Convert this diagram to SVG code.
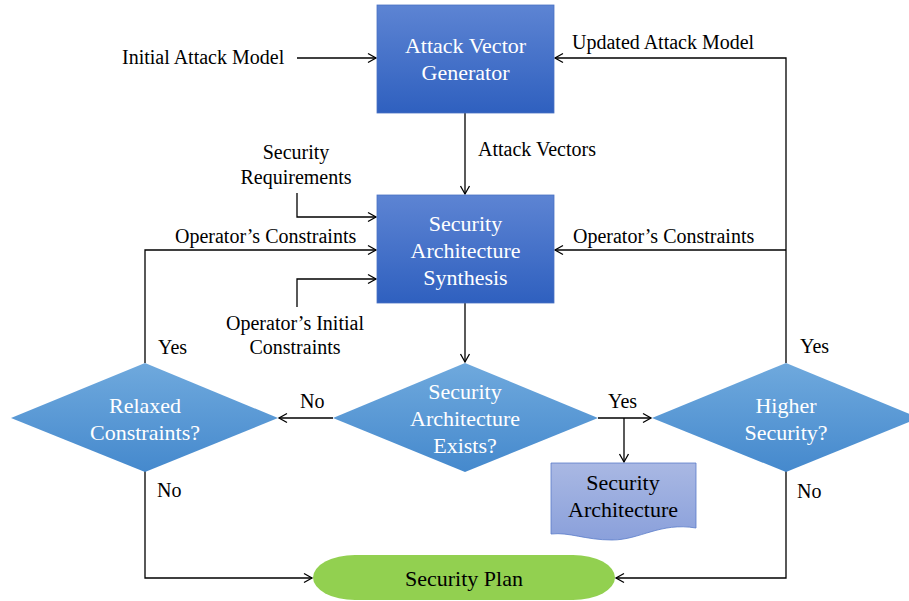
<svg xmlns="http://www.w3.org/2000/svg" width="909" height="601" viewBox="0 0 909 601">
<defs>
<linearGradient id="gBox" x1="0" y1="0" x2="0" y2="1"><stop offset="0" stop-color="#5d84d3"/><stop offset="1" stop-color="#2f60bf"/></linearGradient>
<linearGradient id="gDia" x1="0" y1="0" x2="0" y2="1"><stop offset="0" stop-color="#6fa9dd"/><stop offset="1" stop-color="#4589cd"/></linearGradient>
<linearGradient id="gDoc" x1="0" y1="0" x2="0" y2="1"><stop offset="0" stop-color="#a9b8e3"/><stop offset="1" stop-color="#8aa0db"/></linearGradient>
<marker id="arr" markerWidth="12" markerHeight="12" refX="10" refY="6" orient="auto" markerUnits="userSpaceOnUse"><path d="M2,1.5 L10,6 L2,10.5" fill="none" stroke="#000" stroke-width="1.3"/></marker>
</defs>
<rect width="909" height="601" fill="#fff"/>
<g id="connectors" fill="none" stroke="#000" stroke-width="1.3">
<path marker-end="url(#arr)" d="M297,58 H376"/>
<path marker-end="url(#arr)" d="M786,363 V58 H555"/>
<path marker-end="url(#arr)" d="M786,250 H555"/>
<path marker-end="url(#arr)" d="M465,113 V194"/>
<path marker-end="url(#arr)" d="M297,193 V217 H376"/>
<path marker-end="url(#arr)" d="M145,363 V250 H376"/>
<path marker-end="url(#arr)" d="M297,307 V279 H376"/>
<path marker-end="url(#arr)" d="M465,303 V362"/>
<path marker-end="url(#arr)" d="M333,418 H279"/>
<path marker-end="url(#arr)" d="M598,418 H651"/>
<path marker-end="url(#arr)" d="M624,418 V462"/>
<path marker-end="url(#arr)" d="M145,471 V578 H312"/>
<path marker-end="url(#arr)" d="M786,471 V578 H616"/>
</g>
<g id="labels" fill="#000">
<text font-family="Liberation Serif, Times New Roman, serif" font-size="20" x="122" y="64">Initial Attack Model</text>
<text font-family="Liberation Serif, Times New Roman, serif" font-size="20" x="572" y="49">Updated Attack Model</text>
<text font-family="Liberation Serif, Times New Roman, serif" font-size="20" x="478" y="156">Attack Vectors</text>
<text font-family="Liberation Serif, Times New Roman, serif" font-size="20" x="296" y="159" text-anchor="middle">Security</text>
<text font-family="Liberation Serif, Times New Roman, serif" font-size="20" x="296" y="184" text-anchor="middle">Requirements</text>
<text font-family="Liberation Serif, Times New Roman, serif" font-size="20" x="175" y="243">Operator&#8217;s Constraints</text>
<text font-family="Liberation Serif, Times New Roman, serif" font-size="20" x="573" y="243">Operator&#8217;s Constraints</text>
<text font-family="Liberation Serif, Times New Roman, serif" font-size="20" x="295" y="330" text-anchor="middle">Operator&#8217;s Initial</text>
<text font-family="Liberation Serif, Times New Roman, serif" font-size="20" x="295" y="354" text-anchor="middle">Constraints</text>
<text font-family="Liberation Serif, Times New Roman, serif" font-size="20" x="158" y="354">Yes</text>
<text font-family="Liberation Serif, Times New Roman, serif" font-size="20" x="800" y="353">Yes</text>
<text font-family="Liberation Serif, Times New Roman, serif" font-size="20" x="300" y="408">No</text>
<text font-family="Liberation Serif, Times New Roman, serif" font-size="20" x="608" y="408">Yes</text>
<text font-family="Liberation Serif, Times New Roman, serif" font-size="20" x="157" y="497">No</text>
<text font-family="Liberation Serif, Times New Roman, serif" font-size="20" x="797" y="498">No</text>
</g>
<g id="attack-vector-generator">
<rect x="377" y="5" width="177" height="108" fill="url(#gBox)" stroke="#4a72c4" stroke-width="0.8"/>
<text font-family="Liberation Serif, Times New Roman, serif" font-size="22" fill="#fff" text-anchor="middle" x="465.5" y="53">Attack Vector</text>
<text font-family="Liberation Serif, Times New Roman, serif" font-size="22" fill="#fff" text-anchor="middle" x="465.5" y="80">Generator</text>
</g>
<g id="security-architecture-synthesis">
<rect x="377" y="195" width="177" height="108" fill="url(#gBox)" stroke="#4a72c4" stroke-width="0.8"/>
<text font-family="Liberation Serif, Times New Roman, serif" font-size="22" fill="#fff" text-anchor="middle" x="465.5" y="231">Security</text>
<text font-family="Liberation Serif, Times New Roman, serif" font-size="22" fill="#fff" text-anchor="middle" x="465.5" y="258">Architecture</text>
<text font-family="Liberation Serif, Times New Roman, serif" font-size="22" fill="#fff" text-anchor="middle" x="465.5" y="285">Synthesis</text>
</g>
<g id="relaxed-constraints">
<polygon points="145,363 278,418 145,472 11,418" fill="url(#gDia)"/>
<text font-family="Liberation Serif, Times New Roman, serif" font-size="22" fill="#fff" text-anchor="middle" x="145" y="413">Relaxed</text>
<text font-family="Liberation Serif, Times New Roman, serif" font-size="22" fill="#fff" text-anchor="middle" x="145" y="440">Constraints?</text>
</g>
<g id="security-architecture-exists">
<polygon points="465,363 598,418 465,472 333,418" fill="url(#gDia)"/>
<text font-family="Liberation Serif, Times New Roman, serif" font-size="22" fill="#fff" text-anchor="middle" x="465" y="399">Security</text>
<text font-family="Liberation Serif, Times New Roman, serif" font-size="22" fill="#fff" text-anchor="middle" x="465" y="426">Architecture</text>
<text font-family="Liberation Serif, Times New Roman, serif" font-size="22" fill="#fff" text-anchor="middle" x="465" y="453">Exists?</text>
</g>
<g id="higher-security">
<polygon points="786,363 919,418 786,472 652,418" fill="url(#gDia)"/>
<text font-family="Liberation Serif, Times New Roman, serif" font-size="22" fill="#fff" text-anchor="middle" x="786" y="413">Higher</text>
<text font-family="Liberation Serif, Times New Roman, serif" font-size="22" fill="#fff" text-anchor="middle" x="786" y="440">Security?</text>
</g>
<g id="security-architecture-doc">
<path d="M551,463 H696 V528 C660,522 640,540 612,540 C585,540 570,532 551,534 Z" fill="url(#gDoc)" stroke="#5b7cc9" stroke-width="0.8"/>
<text font-family="Liberation Serif, Times New Roman, serif" font-size="22" fill="#000" text-anchor="middle" x="623" y="490">Security</text>
<text font-family="Liberation Serif, Times New Roman, serif" font-size="22" fill="#000" text-anchor="middle" x="623" y="517">Architecture</text>
</g>
<g id="security-plan">
<rect x="313" y="555" width="302" height="45" rx="42" ry="22.5" fill="#92d050"/>
<text font-family="Liberation Serif, Times New Roman, serif" font-size="22" fill="#000" text-anchor="middle" x="464" y="586">Security Plan</text>
</g>
</svg>
